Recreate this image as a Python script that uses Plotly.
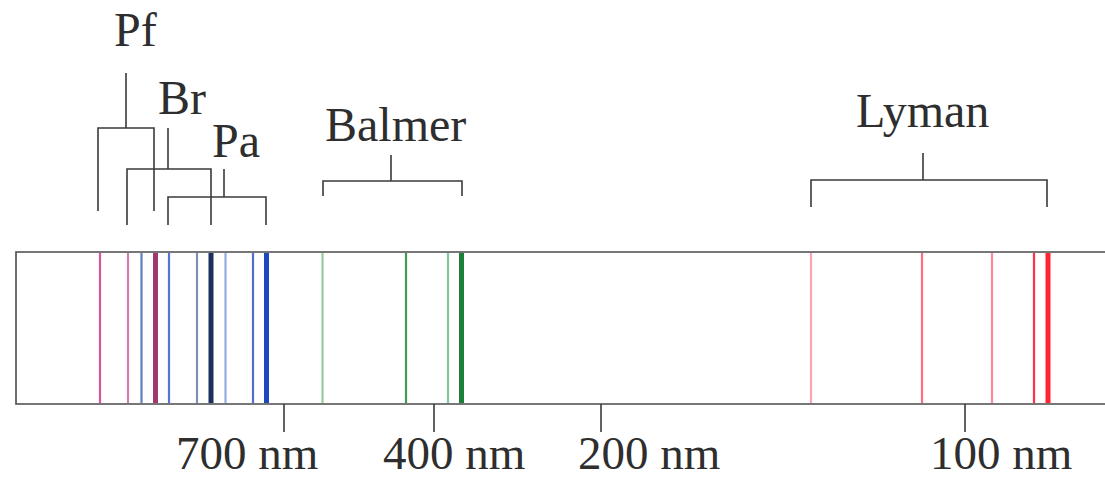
import plotly.graph_objects as go

# Hydrogen emission spectrum, drawn on a schematic energy axis (left = low energy).
# Axis units run 0..1105 across the strip, 0..478 down the page.

# Spectral lines: position on the strip, colour, and whether it is a strong line
line_pos = [100, 128, 141.5, 155.5, 169, 197, 211, 225.5, 253, 266.5,
            322.5, 406, 448, 461.5,
            811, 922, 992, 1034, 1048]
line_color = ["#d2579a", "#d47cb0", "#5f7fbf", "#a3386a", "#5574d6",
              "#7b8fb8", "#1d2f5e", "#92abe6", "#4e6ed2", "#1a49bf",
              "#95caa2", "#3f9d52", "#86c595", "#1c7f3a",
              "#ffa3b2", "#ff6d80", "#ff8898", "#ff3346", "#ff2232"]
line_strong = [False, False, False, True, False, False, True, False, False, True,
               False, False, False, True,
               False, False, False, False, True]

# Series brackets: name, left leg, right leg, stem position
series_name = ["Pf", "Br", "Pa", "Balmer", "Lyman"]
series_left = [98, 127, 168, 323, 811]
series_right = [154, 211, 266, 462, 1047]
series_stem = [126, 168, 224, 391, 923]

# Wavelength ticks
tick_pos = [284, 434, 601, 965]
tick_text = ["700 nm", "400 nm", "200 nm", "100 nm"]

# ---- layout geometry (page units) ----
strip_left, strip_top, strip_bottom = 16, 252, 404
bracket_bar_y = [128, 169, 197, 181, 180]
bracket_stem_top = [73, 128, 169, 155, 153]
bracket_leg_bottom = [211, 225, 225, 196, 207]
label_xy = [(135, 29), (182, 97), (236, 140), (395, 124), (922, 110)]
tick_label_x = [247, 454, 649, 1001]
tick_label_y = 453

FONT = "Liberation Serif, Times New Roman, serif"
INK = "#3a3a3a"

fig = go.Figure()
shapes = []

# Spectrum strip frame
shapes.append(dict(type="rect", xref="x", yref="y",
                   x0=strip_left, x1=1120, y0=strip_top, y1=strip_bottom,
                   line=dict(color="#4a4a4a", width=1.6),
                   fillcolor="rgba(0,0,0,0)", layer="above"))

# Emission lines
for x, c, strong in zip(line_pos, line_color, line_strong):
    shapes.append(dict(type="line", xref="x", yref="y",
                       x0=x, x1=x, y0=strip_top + 1, y1=strip_bottom - 1,
                       line=dict(color=c, width=5 if strong else 2.2),
                       layer="below"))

# Series brackets
for i in range(len(series_name)):
    l, r, s = series_left[i], series_right[i], series_stem[i]
    yb, yt, yl = bracket_bar_y[i], bracket_stem_top[i], bracket_leg_bottom[i]
    path = f"M {l},{yl} L {l},{yb} L {r},{yb} L {r},{yl} M {s},{yb} L {s},{yt}"
    shapes.append(dict(type="path", xref="x", yref="y", path=path,
                       line=dict(color=INK, width=1.6)))

# Wavelength tick marks
for x in tick_pos:
    shapes.append(dict(type="line", xref="x", yref="y",
                       x0=x, x1=x, y0=strip_bottom, y1=432,
                       line=dict(color=INK, width=1.6)))

annotations = []
for name, (x, y) in zip(series_name, label_xy):
    annotations.append(dict(x=x, y=y, xref="x", yref="y", text=name,
                            showarrow=False, xanchor="center", yanchor="middle",
                            font=dict(family=FONT, size=48, color="#2e2e2e")))
for x, t in zip(tick_label_x, tick_text):
    annotations.append(dict(x=x, y=tick_label_y, xref="x", yref="y", text=t,
                            showarrow=False, xanchor="center", yanchor="middle",
                            font=dict(family=FONT, size=47, color="#2e2e2e")))

fig.update_layout(
    width=1105, height=478,
    margin=dict(l=0, r=0, t=0, b=0),
    paper_bgcolor="white", plot_bgcolor="white",
    xaxis=dict(range=[0, 1105], visible=False, fixedrange=True),
    yaxis=dict(range=[478, 0], visible=False, fixedrange=True),
    shapes=shapes, annotations=annotations,
    showlegend=False,
)

fig.write_html("out.html", config={"displayModeBar": False})
